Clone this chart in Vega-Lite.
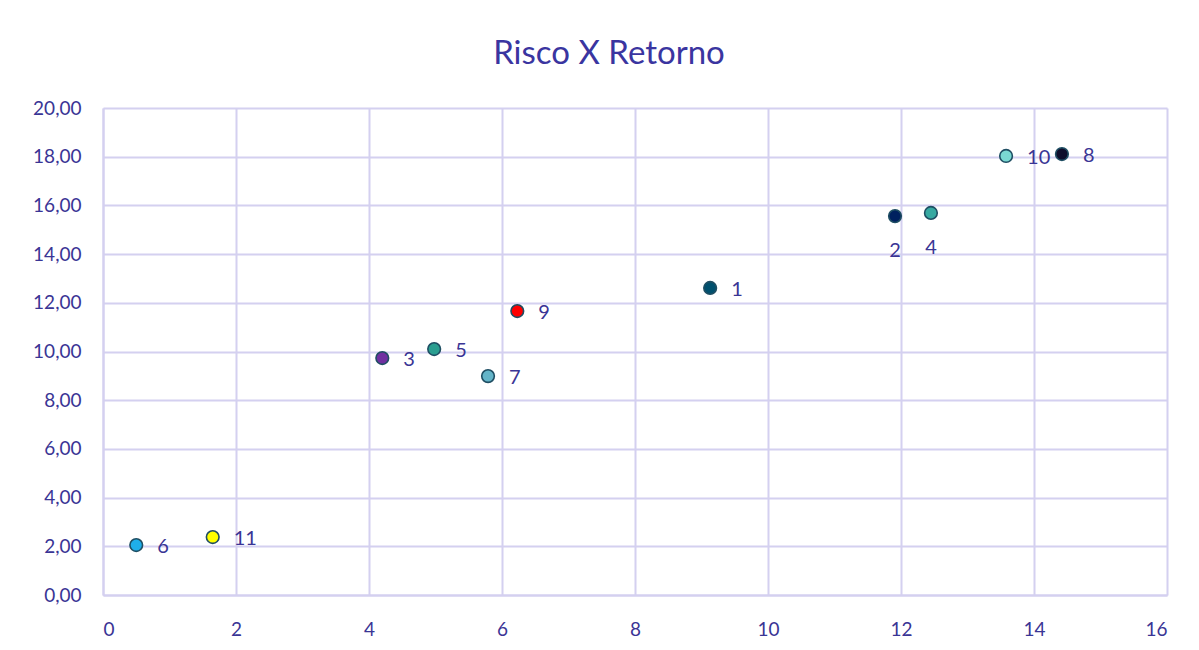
{
  "$schema": "https://vega.github.io/schema/vega-lite/v6.json",
  "width": 1064,
  "height": 487,
  "autosize": {"type": "none"},
  "padding": {"left": 103, "top": 108, "right": 32, "bottom": 55},
  "background": "white",
  "title": {
    "text": "Risco X Retorno",
    "fontSize": 33,
    "font": "Lato",
    "fontWeight": "normal",
    "color": "#3A35A0",
    "anchor": "middle",
    "dx": -26,
    "offset": 28
  },
  "config": {
    "locale": {"number": {"decimal": ",", "thousands": ".", "grouping": [3], "currency": ["R$", ""]}},
    "view": {"stroke": null},
    "axis": {
      "labelFont": "Lato",
      "labelFontSize": 19,
      "labelColor": "#3A3595",
      "gridColor": "#D4D0F0",
      "gridWidth": 2,
      "domainColor": "#D4D0F0",
      "domainWidth": 2,
      "ticks": false,
      "title": null
    }
  },
  "data": {
    "values": [
      {"id": "1", "risco": 9.13, "retorno": 12.61},
      {"id": "2", "risco": 11.91, "retorno": 15.56},
      {"id": "3", "risco": 4.2, "retorno": 9.73},
      {"id": "4", "risco": 12.45, "retorno": 15.69},
      {"id": "5", "risco": 4.98, "retorno": 10.1},
      {"id": "6", "risco": 0.5, "retorno": 2.05},
      {"id": "7", "risco": 5.79, "retorno": 8.99},
      {"id": "8", "risco": 14.42, "retorno": 18.11},
      {"id": "9", "risco": 6.23, "retorno": 11.66},
      {"id": "10", "risco": 13.58, "retorno": 18.03},
      {"id": "11", "risco": 1.65, "retorno": 2.38}
    ]
  },
  "encoding": {
    "x": {
      "field": "risco",
      "type": "quantitative",
      "scale": {"domain": [0, 16], "nice": false, "zero": true},
      "axis": {"values": [0, 2, 4, 6, 8, 10, 12, 14, 16], "format": "d", "labelPadding": 25, "grid": true}
    },
    "y": {
      "field": "retorno",
      "type": "quantitative",
      "scale": {"domain": [0, 20], "nice": false},
      "axis": {"values": [0, 2, 4, 6, 8, 10, 12, 14, 16, 18, 20], "format": ".2f", "labelPadding": 22, "grid": true}
    }
  },
  "layer": [
    {
      "mark": {"type": "point", "filled": true, "size": 160, "stroke": "#1F4E63", "strokeWidth": 1.6, "opacity": 1},
      "encoding": {
        "color": {
          "field": "id",
          "type": "nominal",
          "legend": null,
          "scale": {
            "domain": ["1", "2", "3", "4", "5", "6", "7", "8", "9", "10", "11"],
            "range": ["#00506E", "#00215F", "#7030A0", "#36A9A1", "#2A9E90", "#1EAEEA", "#63B4C8", "#0E0E2C", "#FF0000", "#7AD8D2", "#FFFF00"]
          }
        },
        "stroke": {"value": "#1F4E63"}
      }
    },
    {
      "transform": [{"filter": "datum.id != '2' && datum.id != '4'"}],
      "mark": {"type": "text", "align": "left", "baseline": "middle", "dx": 21, "dy": 2, "font": "Lato", "fontSize": 20, "color": "#3A3595"},
      "encoding": {"text": {"field": "id", "type": "nominal"}}
    },
    {
      "transform": [{"filter": "datum.id == '2' || datum.id == '4'"}],
      "mark": {"type": "text", "align": "center", "baseline": "middle", "dy": 35, "font": "Lato", "fontSize": 20, "color": "#3A3595"},
      "encoding": {"text": {"field": "id", "type": "nominal"}}
    }
  ]
}
